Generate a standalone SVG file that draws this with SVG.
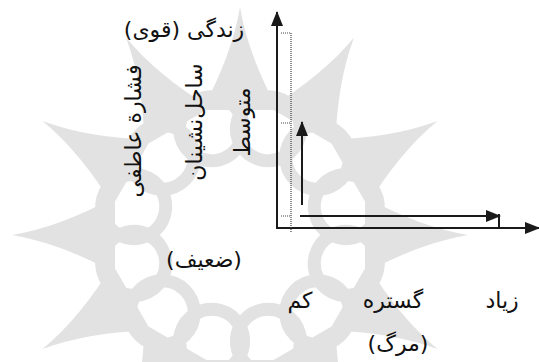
<svg xmlns="http://www.w3.org/2000/svg" width="539" height="362" viewBox="0 0 539 362">
  <style>
    .lbl { font-family: "DejaVu Sans", "Noto Sans", sans-serif; font-size: 22px; fill: #111; direction: rtl; text-anchor: middle; }
    .ax { stroke: #1a1a1a; stroke-width: 2; fill: none; }
    .dot { stroke: #444; stroke-width: 1.2; stroke-dasharray: 1 1; fill: none; }
    .wm { fill: #e2e2e2; }
    .wmr { fill: none; stroke: #e2e2e2; stroke-width: 13; }
  </style>
  <defs>
    <marker id="ah" markerUnits="userSpaceOnUse" markerWidth="15" markerHeight="12" refX="14" refY="6" orient="auto">
      <path d="M0,0 L15,6 L0,12 Z" fill="#1a1a1a"/>
    </marker>
    <path id="spike" d="M125,-38 Q180,-8 228,0 Q180,8 125,38 Z"/>
  </defs>

  <g id="watermark" transform="translate(240,235)">
    <g class="wm">
      <use href="#spike" transform="rotate(0)"/>
      <use href="#spike" transform="rotate(30)"/>
      <use href="#spike" transform="rotate(60)"/>
      <use href="#spike" transform="rotate(90)"/>
      <use href="#spike" transform="rotate(120)"/>
      <use href="#spike" transform="rotate(150)"/>
      <use href="#spike" transform="rotate(180)"/>
      <use href="#spike" transform="rotate(210)"/>
      <use href="#spike" transform="rotate(240)"/>
      <use href="#spike" transform="rotate(270)"/>
      <use href="#spike" transform="rotate(300)"/>
      <use href="#spike" transform="rotate(330)"/>
    </g>
    <g class="wmr">
      <circle cx="110" cy="0" r="32" transform="rotate(15)"/>
      <circle cx="110" cy="0" r="32" transform="rotate(45)"/>
      <circle cx="110" cy="0" r="32" transform="rotate(75)"/>
      <circle cx="110" cy="0" r="32" transform="rotate(105)"/>
      <circle cx="110" cy="0" r="32" transform="rotate(135)"/>
      <circle cx="110" cy="0" r="32" transform="rotate(165)"/>
      <circle cx="110" cy="0" r="32" transform="rotate(195)"/>
      <circle cx="110" cy="0" r="32" transform="rotate(225)"/>
      <circle cx="110" cy="0" r="32" transform="rotate(255)"/>
      <circle cx="110" cy="0" r="32" transform="rotate(285)"/>
      <circle cx="110" cy="0" r="32" transform="rotate(315)"/>
      <circle cx="110" cy="0" r="32" transform="rotate(345)"/>
    </g>
  </g>

  <g id="connectors">
    <line class="ax" x1="277" y1="229" x2="277" y2="12" marker-end="url(#ah)"/>
    <line class="ax" x1="276" y1="228" x2="539" y2="228" marker-end="url(#ah)"/>
    <line class="ax" x1="302" y1="205" x2="302" y2="122" marker-end="url(#ah)"/>
    <line class="ax" x1="300" y1="216" x2="500" y2="216" marker-end="url(#ah)"/>
    <line class="ax" x1="499" y1="214" x2="499" y2="228"/>
    <line class="dot" x1="291" y1="33" x2="291" y2="232"/>
    <line class="dot" x1="281" y1="33" x2="291" y2="33"/>
    <line class="dot" x1="281" y1="123" x2="291" y2="123"/>
    <line class="dot" x1="281" y1="216" x2="291" y2="216"/>
  </g>

  <g id="label-strong"><text class="lbl" x="184" y="37">زندگی (قوی)</text></g>
  <g id="label-emotional"><text class="lbl" transform="translate(141,131) rotate(-90)">فشارة عاطفی</text></g>
  <g id="label-coastal"><text class="lbl" transform="translate(202,122) rotate(-90)">ساحل‌نشینان</text></g>
  <g id="label-medium"><text class="lbl" transform="translate(250,122) rotate(-90)">متوسط</text></g>
  <g id="label-weak"><text class="lbl" x="204" y="267">(ضعیف)</text></g>
  <g id="label-low"><text class="lbl" x="300" y="308">کم</text></g>
  <g id="label-range"><text class="lbl" x="393" y="308">گستره</text></g>
  <g id="label-high"><text class="lbl" x="502" y="308">زیاد</text></g>
  <g id="label-death"><text class="lbl" x="398" y="351">(مرگ)</text></g>
</svg>
